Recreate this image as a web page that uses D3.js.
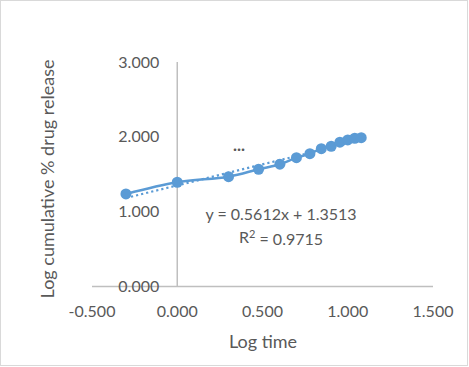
<!DOCTYPE html>
<html>
<head>
<meta charset="utf-8">
<script src="https://cdn.jsdelivr.net/npm/d3@7"></script>
<style>
  body { margin: 0; background: #fff; }
  text { font-family: Lato, "Open Sans", sans-serif; fill: #595959; }
</style>
</head>
<body>
<svg id="chart"></svg>
<script>
// log time (log of hours) and log cumulative % drug release
const logTime = [-0.301, 0.000, 0.301, 0.477, 0.602, 0.699, 0.778, 0.845, 0.903, 0.954, 1.000, 1.041, 1.079];
const logRelease = [1.237, 1.393, 1.468, 1.567, 1.634, 1.722, 1.775, 1.842, 1.874, 1.928, 1.959, 1.981, 1.989];
const xTicks = [-0.5, 0, 0.5, 1.0, 1.5];
const yTicks = [0, 1, 2, 3];
const trendSlope = 0.5612;
const trendIntercept = 1.3513;
const trendR2 = 0.9715;

const width = 469, height = 367;
const svg = d3.select("#chart").attr("width", width).attr("height", height);

// chart border
svg.append("rect")
   .attr("x", 0.5).attr("y", 0.5)
   .attr("width", width - 2).attr("height", height - 2)
   .attr("fill", "#fff").attr("stroke", "#d9d9d9");

const x = d3.scaleLinear().domain([-0.5, 1.5]).range([92, 433]);
const y = d3.scaleLinear().domain([0, 3]).range([286.5, 62]);
// plain hyphen for negatives, like the original
const fmt = d3.formatLocale({decimal: ".", thousands: ",", grouping: [3], currency: ["", ""], minus: "-"}).format(".3f");

// axis lines (vertical axis crosses at x = 0)
svg.append("line")
   .attr("x1", x(-0.5)).attr("x2", x(1.5))
   .attr("y1", y(0)).attr("y2", y(0))
   .attr("stroke", "#bfbfbf").attr("stroke-width", 1.5);
svg.append("line")
   .attr("x1", x(0)).attr("x2", x(0))
   .attr("y1", y(3)).attr("y2", y(0))
   .attr("stroke", "#bfbfbf").attr("stroke-width", 1.5);

// tick labels
svg.selectAll(".ylab")
   .data(yTicks).enter()
   .append("text")
   .attr("class", "ylab")
   .attr("x", x(0) - 18)
   .attr("y", d => y(d))
   .attr("dy", "0.35em")
   .attr("text-anchor", "end")
   .attr("font-size", 16)
   .text(d => fmt(d));
svg.selectAll(".xlab")
   .data(xTicks).enter()
   .append("text")
   .attr("class", "xlab")
   .attr("x", d => x(d))
   .attr("y", 311)
   .attr("dy", "0.35em")
   .attr("text-anchor", "middle")
   .attr("font-size", 16)
   .text(d => fmt(d));

// axis titles
svg.append("text")
   .attr("x", 263).attr("y", 342)
   .attr("dy", "0.35em")
   .attr("text-anchor", "middle")
   .attr("font-size", 18)
   .text("Log time");
svg.append("text")
   .attr("transform", "translate(48,179) rotate(-90)")
   .attr("dy", "0.35em")
   .attr("text-anchor", "middle")
   .attr("font-size", 18)
   .text("Log cumulative % drug release");

const blue = "#5b9bd5";
const pts = logTime.map((t, i) => [t, logRelease[i]]);

// linear trendline across the data range
const tx = d3.extent(logTime);
svg.append("path")
   .datum(tx.map(t => [t, trendSlope * t + trendIntercept]))
   .attr("fill", "none")
   .attr("stroke", blue)
   .attr("stroke-width", 2.2)
   .attr("stroke-dasharray", "2.2,3")
   .attr("d", d3.line().x(d => x(d[0])).y(d => y(d[1])));

// smoothed series line
svg.append("path")
   .datum(pts)
   .attr("fill", "none")
   .attr("stroke", blue)
   .attr("stroke-width", 2.5)
   .attr("d", d3.line().curve(d3.curveCatmullRom.alpha(0.5)).x(d => x(d[0])).y(d => y(d[1])));

svg.selectAll(".pt")
   .data(pts).enter()
   .append("circle")
   .attr("class", "pt")
   .attr("cx", d => x(d[0]))
   .attr("cy", d => y(d[1]))
   .attr("r", 5.5)
   .attr("fill", blue);

// stray label dots
svg.append("text")
   .attr("x", 239).attr("y", 151)
   .attr("text-anchor", "middle")
   .attr("font-size", 17)
   .attr("font-weight", "bold")
   .text("...");

// trendline equation
const eq = svg.append("text")
   .attr("x", 281).attr("y", 214)
   .attr("dy", "0.35em")
   .attr("text-anchor", "middle")
   .attr("font-size", 16);
eq.text(`y = ${trendSlope}x + ${trendIntercept}`);
const r2 = svg.append("text")
   .attr("x", 281).attr("y", 237)
   .attr("dy", "0.35em")
   .attr("text-anchor", "middle")
   .attr("font-size", 16);
r2.append("tspan").text("R");
r2.append("tspan").attr("dy", "-0.4em").attr("font-size", 11).text("2");
r2.append("tspan").attr("dy", "0.4em").text(` = ${trendR2}`);
</script>
</body>
</html>
